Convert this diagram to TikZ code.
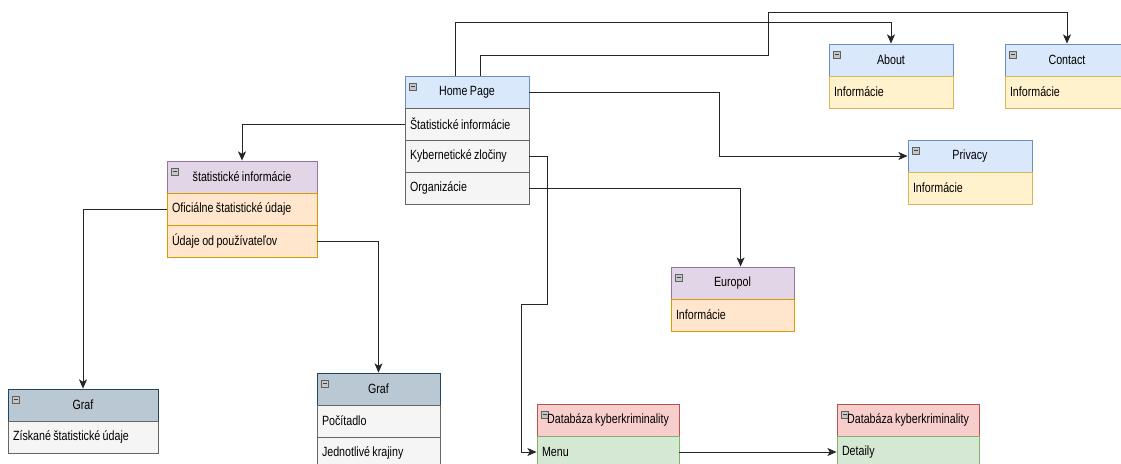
\documentclass[tikz,border=0pt]{standalone}
\usepackage{fontspec}
\setmainfont{Liberation Sans}[FakeStretch=0.8, WordSpace=0.8]
\usetikzlibrary{arrows.meta}
\definecolor{blueF}{HTML}{DAE8FC}
\definecolor{blueD}{HTML}{6C8EBF}
\definecolor{yelF}{HTML}{FFF2CC}
\definecolor{yelD}{HTML}{D6B656}
\definecolor{purF}{HTML}{E1D5E7}
\definecolor{purD}{HTML}{9673A6}
\definecolor{oraF}{HTML}{FFE6CC}
\definecolor{oraD}{HTML}{D79B00}
\definecolor{grayF}{HTML}{F5F5F5}
\definecolor{grayD}{HTML}{666666}
\definecolor{slateF}{HTML}{BAC8D3}
\definecolor{slateD}{HTML}{23445D}
\definecolor{redF}{HTML}{F8CECC}
\definecolor{redD}{HTML}{B85450}
\definecolor{grnF}{HTML}{D5E8D4}
\definecolor{grnD}{HTML}{82B366}
\tikzset{
    every node/.style={font=\fontsize{9.5}{11}\selectfont}
}
\tikzset{
    box/.style={draw, rectangle, inner sep=0mm, line width=0.6pt,
        minimum width=#1*0.025cm, minimum height=0.8cm},
    hdr/.style={box=#1, path picture={
            \draw[fill=gray!45, draw=gray!75!black, line width=0.4pt]
                ([shift={(4,7)}]path picture bounding box.north west) rectangle ++(7,7);
            \draw[line width=0.8pt, black!75]
                ([shift={(5.5,10.5)}]path picture bounding box.north west) -- ++(4,0);
        }},
    row/.style={box=#1, inner xsep=0.125cm, text width=#1*0.025cm-0.25cm, align=flush left},
    conn/.style={draw=black!85, line width=0.65pt,
        -{Stealth[length=2.3mm, width=2mm, inset=0.6mm]}}
}

\begin{document}
\begin{tikzpicture}[x=0.025cm, y=-0.025cm]
        \useasboundingbox (0,0) rectangle (1121,463);
        \clip (0,0) rectangle (1121,463);
        % Home Page
        \node[hdr=124, fill=blueF, draw=blueD] (homeH) at (467,92) {Home Page};
        \node[row=124, fill=grayF, draw=grayD] (hStat) at (467,124) {Štatistické informácie};
        \node[row=124, fill=grayF, draw=grayD] (hKyb) at (467,156) {Kybernetické zločiny};
        \node[row=124, fill=grayF, draw=grayD] (hOrg) at (467,188) {Organizácie};
        % About, Contact, Privacy
        \node[hdr=124, fill=blueF, draw=blueD] (aboutH) at (891,60) {About};
        \node[row=124, fill=yelF, draw=yelD] (aboutR) at (891,92) {Informácie};
        \node[hdr=124, fill=blueF, draw=blueD] (contH) at (1067,60) {Contact};
        \node[row=124, fill=yelF, draw=yelD] (contR) at (1067,92) {Informácie};
        \node[hdr=124, fill=blueF, draw=blueD] (privH) at (970,156) {Privacy};
        \node[row=124, fill=yelF, draw=yelD] (privR) at (970,188) {Informácie};
        % statisticke informacie
        \node[hdr=150, fill=purF, draw=purD] (sH) at (242,177) {štatistické informácie};
        \node[row=150, fill=oraF, draw=oraD] (sOff) at (242,209) {Oficiálne štatistické údaje};
        \node[row=150, fill=oraF, draw=oraD] (sUd) at (242,241) {Údaje od používateľov};
        % Graf
        \node[hdr=150, fill=slateF, draw=slateD] (g1H) at (83,405) {Graf};
        \node[row=150, fill=grayF, draw=grayD] (g1R) at (83,437) {Získané štatistické údaje};
        \node[hdr=123, fill=slateF, draw=slateD] (g2H) at (378.5,389) {Graf};
        \node[row=123, fill=grayF, draw=grayD] (g2A) at (378.5,421) {Počítadlo};
        \node[row=123, fill=grayF, draw=grayD] (g2B) at (378.5,453) {Jednotlivé krajiny};
        % Europol
        \node[hdr=123, fill=purF, draw=purD] (euH) at (732.5,283) {Europol};
        \node[row=123, fill=oraF, draw=oraD] (euR) at (732.5,315) {Informácie};
        % Databaza
        \node[hdr=142, fill=redF, draw=redD] (dH) at (608,420) {Databáza kyberkriminality};
        \node[row=142, fill=grnF, draw=grnD] (dMenu) at (608,452) {Menu};
        \node[hdr=142, fill=redF, draw=redD] (d2H) at (908,420) {Databáza kyberkriminality};
        \node[row=142, fill=grnF, draw=grnD] (dDet) at (908,452) {Detaily};
        % connectors
        \draw[conn] ([shift={(51,0)}]homeH.north west) |- ([shift={(0,-21)}]aboutH.north) -- (aboutH.north);
        \draw[conn] ([shift={(76,0)}]homeH.north west) |- (768,55) |- ([shift={(0,-31)}]contH.north) -- (contH.north);
        \draw[conn] (homeH.east) -- ++(190,0) |- (privH.west);
        \draw[conn] (hStat.west) -| (sH.north);
        \draw[conn] (sOff.west) -| (g1H.north);
        \draw[conn] (sUd.east) -| (g2H.north);
        \draw[conn] (hOrg.east) -| ([shift={(70,0)}]euH.north west);
        \draw[conn] (hKyb.east) -| (547,304) -- (521,304) |- (dMenu.west);
        \draw[conn] (dMenu.east) -- (dDet.west);
\end{tikzpicture}
\end{document}
